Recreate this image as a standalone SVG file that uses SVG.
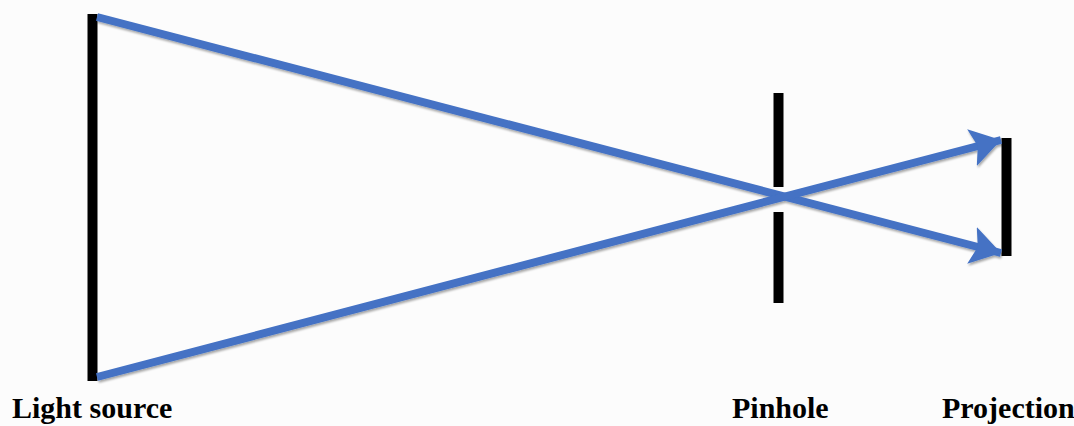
<svg xmlns="http://www.w3.org/2000/svg" width="1074" height="426" viewBox="0 0 1074 426">
  <style>
    .bar { fill: #000000; }
    .ray { stroke: #4472C4; stroke-width: 8; fill: none; stroke-linecap: butt; }
    .label { font-family: "Liberation Serif", "Times New Roman", serif; font-weight: bold; font-size: 30px; fill: #000000; }
  </style>
  <defs>
    <marker id="arrow" markerUnits="userSpaceOnUse" markerWidth="34" markerHeight="42" refX="30" refY="21" orient="auto" viewBox="0 0 34 42">
      <path d="M0,2 L30,21 L0,40 L6,21 z" fill="#4472C4"/>
    </marker>
    <filter id="shadow" x="-5%" y="-20%" width="110%" height="140%">
      <feDropShadow dx="1" dy="2" stdDeviation="1" flood-color="#000000" flood-opacity="0.35"/>
    </filter>
  </defs>
  <rect x="0" y="0" width="1074" height="426" fill="#fcfcfc"/>

  <g id="light-source">
    <rect class="bar" x="87.5" y="14" width="10" height="367"/>
    <text class="label" x="12" y="418">Light source</text>
  </g>

  <g id="pinhole">
    <rect class="bar" x="773.5" y="93" width="10" height="94"/>
    <rect class="bar" x="773.5" y="212" width="10" height="91"/>
    <text class="label" x="732" y="418">Pinhole</text>
  </g>

  <g id="projection">
    <rect class="bar" x="1001.5" y="138" width="10" height="118"/>
    <text class="label" x="942" y="418">Projection</text>
  </g>

  <g id="connectors" filter="url(#shadow)">
    <line class="ray" x1="97" y1="17" x2="1001" y2="253" marker-end="url(#arrow)"/>
    <line class="ray" x1="97" y1="377" x2="1001" y2="140" marker-end="url(#arrow)"/>
  </g>
</svg>
